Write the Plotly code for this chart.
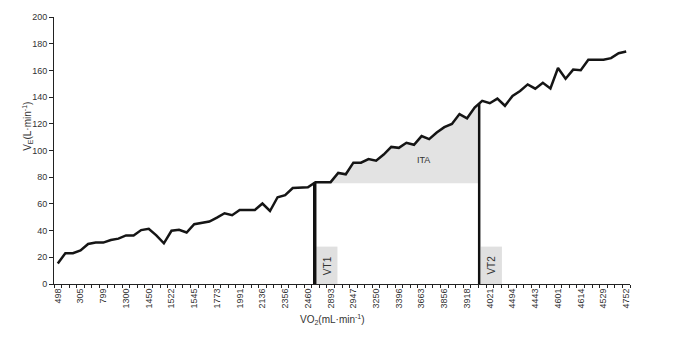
import numpy as np
import plotly.graph_objects as go

# ---- data ----
ve_values = [15.3, 23.1, 23.1, 25.1, 30.0, 31.0, 31.0, 33.0, 34.0, 36.4,
             36.4, 40.4, 41.4, 36.4, 30.5, 39.9, 40.6, 38.6, 44.8, 46.0,
             46.8, 49.7, 53.0, 51.5, 55.4, 55.4, 55.4, 60.3, 54.7, 65.0,
             66.5, 71.9, 71.9, 72.4, 76.3, 76.3, 76.3, 83.2, 82.2, 90.9,
             90.9, 93.6, 92.4, 97.0, 102.7, 102.0, 105.8, 104.3, 110.8, 108.5,
             113.5, 117.5, 119.9, 127.3, 124.1, 132.2, 137.2, 135.4, 138.9, 133.5,
             140.9, 144.6, 149.5, 146.3, 150.7, 146.5, 161.8, 153.7, 160.6, 160.1,
             168.0, 168.0, 168.0, 169.2, 172.9, 174.1]
vo2_tick_labels = ["498", "305", "799", "1300", "1450", "1522", "1545", "1773",
                   "1991", "2136", "2356", "2460", "2893", "2947", "3250", "3396",
                   "3663", "3856", "3918", "4021", "4494", "4443", "4601", "4614",
                   "4529", "4752"]
label_step = 3
vt1_pos = 33.9      # category position of VT1
vt2_pos = 55.6      # category position of VT2
ita_base = 75.5     # VE level of the ITA baseline
vt_box_height = 28

idx = np.arange(len(ve_values))
ve = np.array(ve_values)

fig = go.Figure()

# ITA shaded area
inner = idx[(idx > vt1_pos) & (idx < vt2_pos)]
poly_x = [vt1_pos] + list(inner) + [vt2_pos, vt2_pos, vt1_pos]
poly_y = ([float(np.interp(vt1_pos, idx, ve))] + list(ve[inner]) +
          [float(np.interp(vt2_pos, idx, ve)), ita_base, ita_base])
fig.add_trace(go.Scatter(x=poly_x, y=poly_y, fill="toself", mode="none",
                         fillcolor="#e3e3e3", hoverinfo="skip", showlegend=False))

# VT boxes
for pos in (vt1_pos, vt2_pos):
    fig.add_shape(type="rect", x0=pos + 0.2, x1=pos + 3.0, y0=0, y1=vt_box_height,
                  xref="x", yref="y", fillcolor="#e0e0e0", line=dict(width=0),
                  layer="below")

# VT vertical lines
for pos, w in ((vt1_pos, 3.5), (vt2_pos, 2.5)):
    fig.add_trace(go.Scatter(x=[pos, pos], y=[0, float(np.interp(pos, idx, ve))],
                             mode="lines", line=dict(color="#111111", width=w),
                             hoverinfo="skip", showlegend=False))

# main curve
fig.add_trace(go.Scatter(x=idx, y=ve, mode="lines",
                         line=dict(color="#151515", width=2.5),
                         showlegend=False))

font_fam = "Liberation Sans, Arial, sans-serif"
fig.add_annotation(x=vt1_pos + 1.6, y=vt_box_height / 2, text="VT1", textangle=-90,
                   showarrow=False, font=dict(family=font_fam, size=10, color="#333"))
fig.add_annotation(x=vt2_pos + 1.6, y=vt_box_height / 2, text="VT2", textangle=-90,
                   showarrow=False, font=dict(family=font_fam, size=10, color="#333"))
fig.add_annotation(x=48.3, y=92.8, text="ITA", showarrow=False,
                   font=dict(family=font_fam, size=9, color="#333"))

# axis titles
fig.add_annotation(xref="paper", yref="paper", x=(332 - 54) / 576, y=(284 - 329) / 271,
                   text="VO<sub>2</sub>(mL·min<sup>-1</sup>)", showarrow=False,
                   font=dict(family=font_fam, size=10, color="#333"))
fig.add_annotation(xref="paper", yref="paper", x=(19 - 54) / 576, y=(284 - 124) / 271,
                   text="V<sub>E</sub>(L·min<sup>-1</sup>)", textangle=-90, showarrow=False,
                   font=dict(family=font_fam, size=10, color="#333"))

fig.update_layout(
    width=700, height=344,
    margin=dict(l=54, r=70, t=13, b=60),
    plot_bgcolor="white", paper_bgcolor="white",
    font=dict(family=font_fam, size=9, color="#333"),
    xaxis=dict(range=[-0.5, len(ve_values) - 0.5],
               tickmode="array",
               tickvals=list(range(0, len(ve_values), label_step)),
               ticktext=vo2_tick_labels, tickangle=-90,
               ticks="", showline=True, linecolor="#222", linewidth=1,
               showgrid=False, zeroline=False,
               minor=dict(ticks="outside", tick0=-0.5, dtick=1, ticklen=3,
                          tickcolor="#222", showgrid=False),
               tickfont=dict(size=9, color="#333")),
    yaxis=dict(range=[0, 200], dtick=20, ticks="outside", ticklen=4,
               tickcolor="#222", showline=True, linecolor="#222", linewidth=1,
               showgrid=False, zeroline=False, tickfont=dict(size=9, color="#333")),
)

fig.write_html("out.html", config={"displayModeBar": False},
               post_script="document.body.style.margin='0';document.body.style.overflow='hidden';")
